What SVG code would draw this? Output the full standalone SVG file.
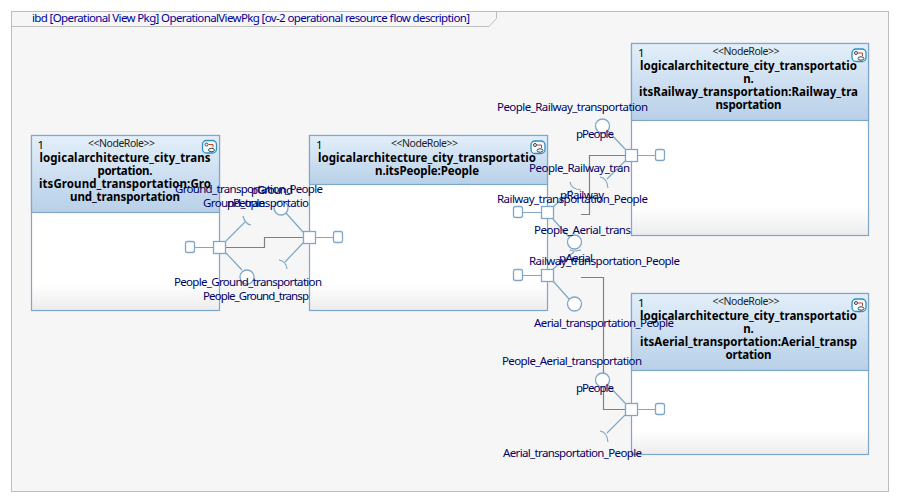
<svg xmlns="http://www.w3.org/2000/svg" width="898" height="502" viewBox="0 0 898 502">
<style>
text{font-family:"Noto Sans","Liberation Sans",sans-serif}
.l{font-size:11.5px;fill:#000066;lengthAdjust:spacing}
.t{font-size:11.5px;fill:#000000}
.n{font-size:11.5px;fill:#000;font-weight:700;text-anchor:middle}
.s{font-size:10.5px;fill:#222;text-anchor:middle}
.b{fill:url(#body);stroke:#7fa7c9;stroke-width:1.2}
.h{fill:url(#head);stroke:#7fa7c9;stroke-width:1.2}
.p{fill:#fff;stroke:#7fa7c9;stroke-width:1.3}
.w{fill:none;stroke:#7fa7c9;stroke-width:1.2}
.c{fill:none;stroke:#808080;stroke-width:1.2}
</style>
<defs>
<linearGradient id="head" x1="0" y1="0" x2="0" y2="1"><stop offset="0" stop-color="#e3effa"/><stop offset="1" stop-color="#b8d0e8"/></linearGradient>
<linearGradient id="body" x1="0" y1="0" x2="0" y2="1"><stop offset="0.85" stop-color="#ffffff"/><stop offset="1" stop-color="#ececec"/></linearGradient>
<g id="icon"><rect x="0" y="0" width="14" height="12.500" rx="4" fill="#f4faff" stroke="#2f8fc0" stroke-width="1.3"/><circle cx="4" cy="4" r="1.5" fill="none" stroke="#444"/><path d="M6 4H10.500V7" fill="none" stroke="#c04a20"/><ellipse cx="9" cy="9.500" rx="3" ry="1.700" fill="none" stroke="#444"/></g>
</defs>
<rect width="898" height="502" fill="#fff"/>
<g id="frame">
<rect x="11.500" y="11.500" width="877" height="480" fill="#f6f6f6" stroke="#bdbdbd"/>
<path d="M11.500 26.500H489L496.500 18.500V11.500" fill="none" stroke="#bdbdbd"/>
<text class="l" style="fill:#000099" x="32" y="22" textLength="438">ibd [Operational View Pkg] OperationalViewPkg [ov-2 operational resource flow description]</text>
</g>
<g id="node-ground">
<rect class="b" x="31.500" y="135.500" width="188" height="175"/>
<rect class="h" x="31.500" y="135.500" width="188" height="77"/>
<text class="t" x="37.500" y="149">1</text>
<text class="s" x="121.500" y="147" textLength="67">&lt;&lt;NodeRole&gt;&gt;</text>
<use href="#icon" x="202.500" y="140.500"/>
<text class="n" x="125" y="162" textLength="171">logicalarchitecture_city_trans</text>
<text class="n" x="125" y="175" textLength="55">portation.</text>
<text class="n" x="125" y="188" textLength="172">itsGround_transportation:Gro</text>
<text class="n" x="125" y="201" textLength="110">und_transportation</text>
</g>
<g id="node-people">
<rect class="b" x="309.500" y="135.500" width="238" height="175"/>
<rect class="h" x="309.500" y="135.500" width="238" height="49"/>
<text class="t" x="316" y="149">1</text>
<text class="s" x="424.500" y="147" textLength="67">&lt;&lt;NodeRole&gt;&gt;</text>
<use href="#icon" x="531" y="141"/>
<text class="n" x="427" y="162" textLength="218">logicalarchitecture_city_transportatio</text>
<text class="n" x="427" y="175" textLength="104">n.itsPeople:People</text>
</g>
<g id="node-railway">
<rect class="b" x="631.500" y="43.500" width="237" height="192"/>
<rect class="h" x="631.500" y="43.500" width="237" height="77"/>
<text class="t" x="638" y="57">1</text>
<text class="s" x="746" y="55" textLength="67">&lt;&lt;NodeRole&gt;&gt;</text>
<use href="#icon" x="852" y="49"/>
<text class="n" x="748.500" y="70" textLength="217">logicalarchitecture_city_transportatio</text>
<text class="n" x="748.500" y="83">n.</text>
<text class="n" x="748.500" y="96" textLength="219">itsRailway_transportation:Railway_tra</text>
<text class="n" x="748.500" y="109" textLength="66">nsportation</text>
</g>
<g id="node-aerial">
<rect class="b" x="631.500" y="293.500" width="237" height="161"/>
<rect class="h" x="631.500" y="293.500" width="237" height="77"/>
<text class="t" x="638" y="307">1</text>
<text class="s" x="746" y="305" textLength="67">&lt;&lt;NodeRole&gt;&gt;</text>
<use href="#icon" x="852" y="299"/>
<text class="n" x="748.500" y="320" textLength="217">logicalarchitecture_city_transportatio</text>
<text class="n" x="748.500" y="333">n.</text>
<text class="n" x="748.500" y="346" textLength="217">itsAerial_transportation:Aerial_transp</text>
<text class="n" x="748.500" y="359" textLength="46">ortation</text>
</g>
<g id="connectors">
<path class="c" d="M226 247.500H264.500V237.500H303"/>
<path class="c" d="M625 155.500H589.500V214.500H581"/>
<path class="c" d="M581 277.500H603.500V409.500H625"/>
</g>
<g id="port-ground">
<path class="w" d="M195 247.500H213M226 241L245 222M226 253L242 270"/>
<path class="w" d="M243 216Q245 224 251 225"/>
<circle class="p" cx="247" cy="277" r="7"/>
<rect class="p" x="185.500" y="241.500" width="9" height="11" rx="2"/>
<rect class="p" x="213.500" y="241.500" width="12" height="12"/>
</g>
<g id="port-people-ground">
<path class="w" d="M316 237.500H333.500M303 232L286 213M303 243L285 262"/>
<path class="w" d="M279 260Q286 261 287 269"/>
<circle class="p" cx="281" cy="208" r="7"/>
<rect class="p" x="333.500" y="231.500" width="9" height="11" rx="2"/>
<rect class="p" x="303.500" y="231.500" width="12" height="12"/>
</g>
<g id="port-people-railway">
<path class="w" d="M522.500 212.500H541M553 207L572 190"/>
<path class="w" d="M570 182Q571 189 581 190"/>
<rect class="p" x="513.500" y="206.500" width="9" height="11" rx="2"/>
<rect class="p" x="541.500" y="206.500" width="12" height="12"/>
</g>
<g id="port-people-aerial">
<path class="w" d="M522.500 275.500H541M553 219L569 237M553 269L574 252M553 281L569 299"/>
<path class="w" d="M570 250Q574 252 581 250"/>
<circle class="p" cx="574.500" cy="242" r="7"/>
<circle class="p" cx="574.500" cy="304" r="7"/>
<rect class="p" x="513.500" y="269.500" width="9" height="11" rx="2"/>
<rect class="p" x="541.500" y="269.500" width="12" height="12"/>
</g>
<g id="port-railway">
<path class="w" d="M638 155.500H655.500M625 149L608 131M625 161L607 179"/>
<path class="w" d="M600 177Q607 178 608 188"/>
<circle class="p" cx="602.500" cy="126" r="7"/>
<rect class="p" x="655.500" y="149.500" width="9" height="11" rx="2"/>
<rect class="p" x="625.500" y="149.500" width="12" height="12"/>
</g>
<g id="port-aerial">
<path class="w" d="M638 409.500H655.500M625 403L608 385M625 415L607 433"/>
<path class="w" d="M600 431Q607 432 608 442"/>
<circle class="p" cx="602.500" cy="380" r="7"/>
<rect class="p" x="655.500" y="403.500" width="9" height="11" rx="2"/>
<rect class="p" x="625.500" y="403.500" width="12" height="12"/>
</g>
<g id="labels">
<text class="l" x="175" y="193" textLength="148">Ground_transportation_People</text>
<text class="l" x="251" y="194" textLength="42">pGround</text>
<text class="l" x="203" y="207" textLength="106">Ground_transportatio</text>
<text class="l" x="227" y="207" textLength="38">pPeople</text>
<text class="l" x="174" y="286" textLength="148">People_Ground_transportation</text>
<text class="l" x="203" y="300" textLength="106">People_Ground_transp</text>
<text class="l" x="497" y="111" textLength="151">People_Railway_transportation</text>
<text class="l" x="576" y="138" textLength="38">pPeople</text>
<text class="l" x="529" y="172" textLength="101">People_Railway_tran</text>
<text class="l" x="560" y="199" textLength="44">pRailway</text>
<text class="l" x="497" y="203" textLength="151">Railway_transportation_People</text>
<text class="l" x="534" y="234" textLength="97">People_Aerial_trans</text>
<text class="l" x="559" y="262" textLength="34">pAerial</text>
<text class="l" x="529" y="265" textLength="151">Railway_transportation_People</text>
<text class="l" x="534" y="327" textLength="140">Aerial_transportation_People</text>
<text class="l" x="502" y="365" textLength="140">People_Aerial_transportation</text>
<text class="l" x="576" y="392" textLength="38">pPeople</text>
<text class="l" x="503" y="457" textLength="139">Aerial_transportation_People</text>
</g>
</svg>
